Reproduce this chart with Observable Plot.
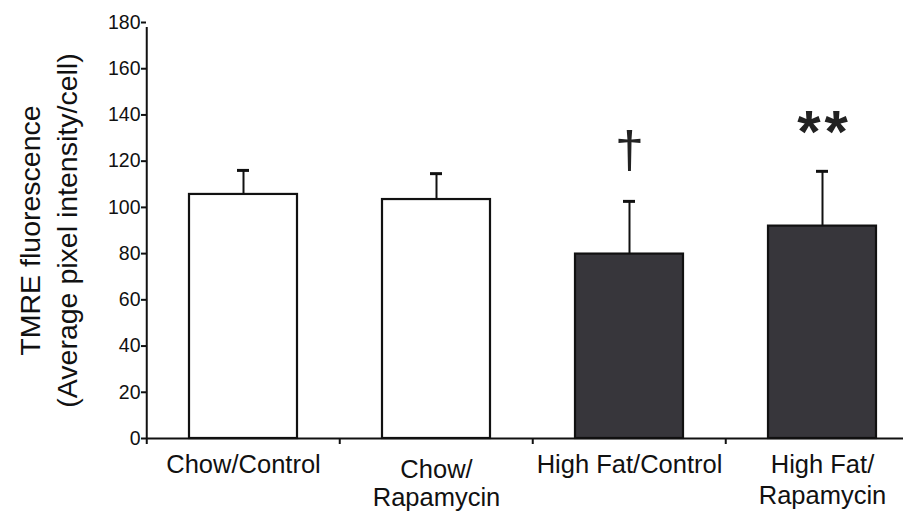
<!DOCTYPE html>
<html>
<head>
<meta charset="utf-8">
<script src="https://cdn.jsdelivr.net/npm/d3@7"></script>
<script src="https://cdn.jsdelivr.net/npm/@observablehq/plot@0.6"></script>
<style>
  html, body { margin: 0; padding: 0; background: #fff; }
  svg { display: block; }
  .stars text { letter-spacing: 4px; }
</style>
</head>
<body>
<div id="chart"></div>
<script>
// ---- data ----
const categories = ["Chow/Control", "Chow/Rapamycin", "High Fat/Control", "High Fat/Rapamycin"];
const tickLabels = ["Chow/Control", "Chow/\nRapamycin", "High Fat/Control", "High Fat/\nRapamycin"];
const diets = ["Chow", "Chow", "High Fat", "High Fat"];
const means = [105.6, 103.4, 79.8, 91.9];
const errors = [10.4, 11.2, 22.8, 23.7];
const marks = ["", "", "†", "**"];
const yTicks = [0, 20, 40, 60, 80, 100, 120, 140, 160, 180];

const data = categories.map((c, i) => ({
  group: c, label: tickLabels[i], diet: diets[i], mean: means[i],
  top: means[i] + errors[i], mark: marks[i]
}));

const font = "'Liberation Sans', Arial, Helvetica, sans-serif";
const W = 903, H = 513;
const xRange = [146, 920];
const step = (xRange[1] - xRange[0]) / categories.length;

const plot = Plot.plot({
  width: W,
  height: H,
  marginLeft: 146,
  marginRight: 0,
  marginTop: 22,
  marginBottom: 75,
  style: {fontFamily: font, background: "#fff", color: "#000"},
  x: {domain: categories, range: xRange, paddingInner: 0.44, paddingOuter: 0.22, axis: null},
  y: {domain: [0, 180], axis: null},
  color: {domain: ["Chow", "High Fat"], range: ["#ffffff", "#37363b"]},
  marks: [
    Plot.barY(data, {x: "group", y: "mean", fill: "diet", stroke: "#111", strokeWidth: 2.2}),
    Plot.ruleX(data, {x: "group", y1: "mean", y2: "top", stroke: "#111", strokeWidth: 2}),
    Plot.tickY(data, {x: "group", y: "top", stroke: "#111", strokeWidth: 3, insetLeft: 48, insetRight: 48}),
    // y axis
    Plot.ruleX([categories[0]], {x: d => d, dx: -step / 2, y1: 0, y2: 180, insetBottom: -5, stroke: "#111", strokeWidth: 2}),
    Plot.axisY({ticks: yTicks, tickSize: 5, tickPadding: 1, fontSize: 19.5, tickFormat: d => d, label: null, strokeWidth: 2, color: "#111"}),
    // x axis
    Plot.ruleY([0], {stroke: "#111", strokeWidth: 2}),
    Plot.ruleX(categories, {x: d => d, dx: -step / 2, y1: 0, y2: 0, insetTop: 0, insetBottom: -6, stroke: "#111", strokeWidth: 2}),
    Plot.text(data.filter(d => d.diet === "High Fat" || d.group === "Chow/Control"), {
      x: "group", text: "label", frameAnchor: "bottom", lineAnchor: "top",
      dy: 13, fontSize: 25.5, lineHeight: 1.2, fill: "#111"
    }),
    Plot.text(data.filter(d => d.group === "Chow/Rapamycin"), {
      x: "group", text: "label", frameAnchor: "bottom", lineAnchor: "top",
      dy: 20, fontSize: 25.5, lineHeight: 1.1, fill: "#111"
    }),
    // significance marks
    Plot.text(data.filter(d => d.mark === "†"), {x: "group", y: "top", text: "mark", lineAnchor: "bottom", dy: -33, fontSize: 52, fill: "#222"}),
    Plot.text(data.filter(d => d.mark === "**"), {x: "group", y: "top", text: "mark", lineAnchor: "bottom", dy: -19, dx: 2, fontSize: 60, fontWeight: "bold", fill: "#222", className: "stars"}),
    // y label
    Plot.text(["TMRE fluorescence\n(Average pixel intensity/cell)"], {
      frameAnchor: "left", textAnchor: "middle", text: d => d, rotate: -90, dx: -100, fontSize: 28.5, lineHeight: 1.3, fill: "#111"
    })
  ]
});
document.getElementById("chart").appendChild(plot);
</script>
</body>
</html>
